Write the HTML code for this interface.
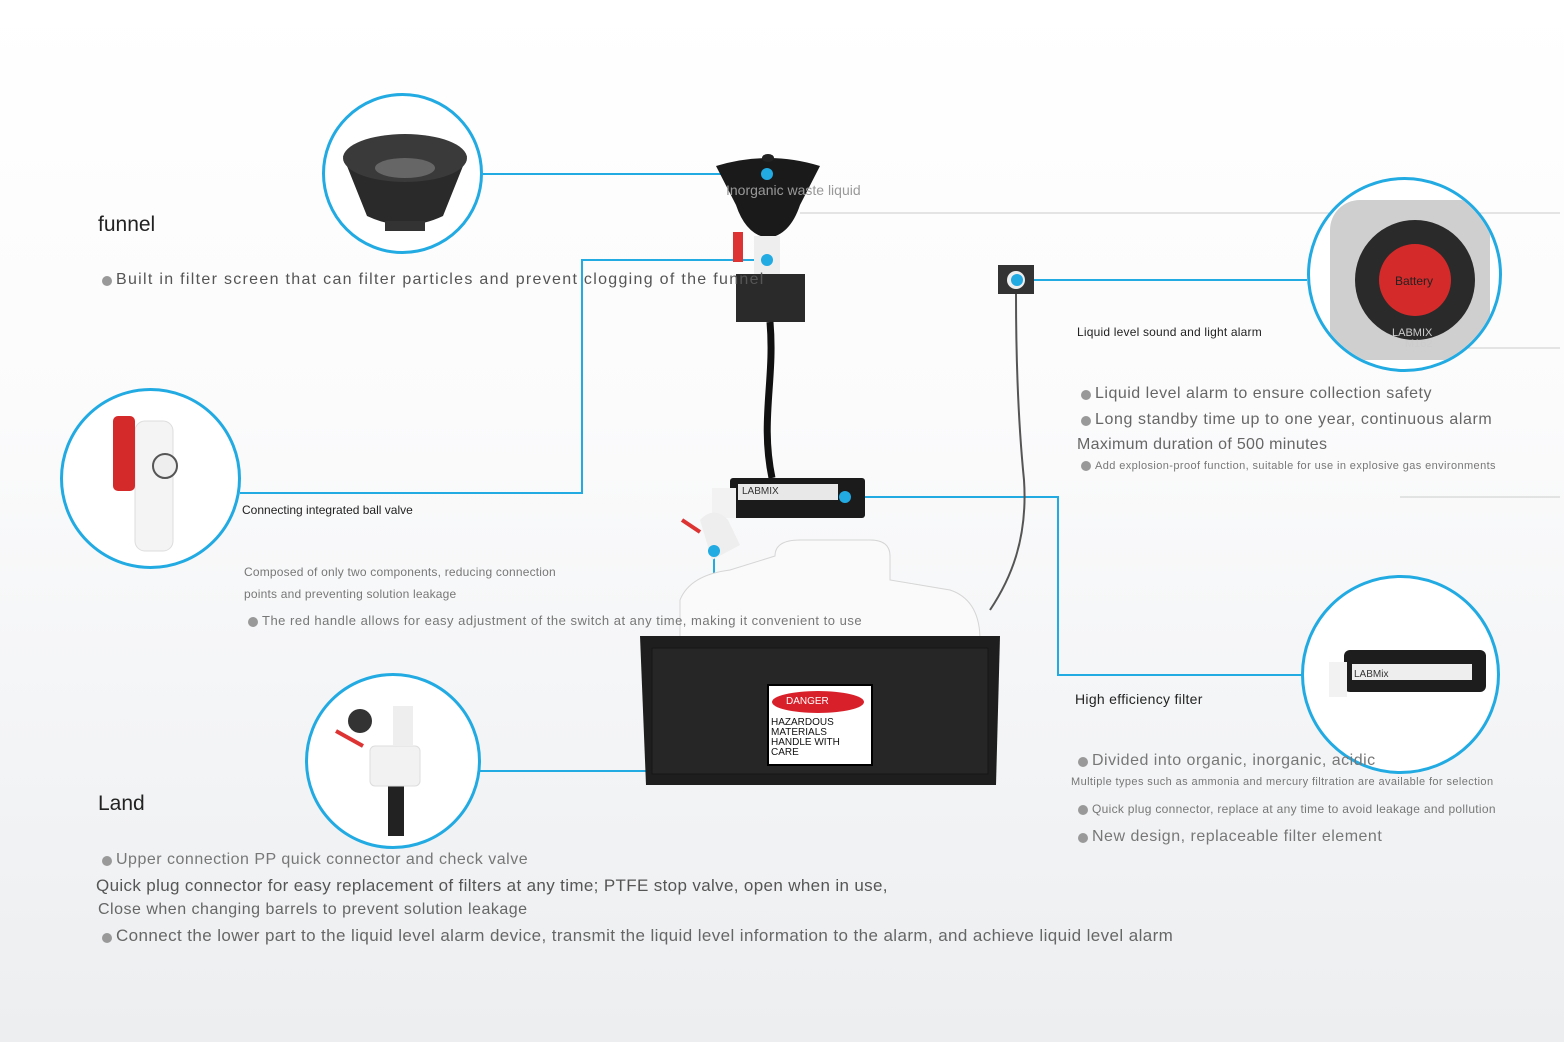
<!DOCTYPE html>
<html><head><meta charset="utf-8"><style>
*{margin:0;padding:0;box-sizing:border-box}
body{width:1564px;height:1042px;overflow:hidden;position:relative;font-family:"Liberation Sans",sans-serif;background:linear-gradient(#ffffff 0%,#fbfbfc 40%,#eceef0 100%);color:#555}
.t{position:absolute;white-space:nowrap}
.c{position:absolute;border:3px solid #22aae2;border-radius:50%;background:#fff;overflow:hidden}
.dot{position:absolute;width:12px;height:12px;border-radius:50%;background:#22aae2}
.b{display:inline-block;width:10px;height:10px;border-radius:50%;background:#999;margin-right:4px;vertical-align:-2px}
</style></head><body>
<svg style="position:absolute;left:0;top:0" width="1564" height="1042">
<g stroke="#22aae2" stroke-width="2" fill="none">
<path d="M483 174H767"/>
<path d="M767 260H582V493H240"/>
<path d="M480 771H714V551"/>
<path d="M1017 280H1307"/>
<path d="M845 497H1058V675H1302"/>
</g>
<g stroke="#ccc" stroke-width="1">
<path d="M800 213H1560"/><path d="M1400 348H1560"/><path d="M1400 497H1560"/>
</g>
<path d="M716 166 Q768 150 820 166 L800 205 Q790 235 768 238 Q746 235 736 205Z" fill="#1a1a1a"/>
<ellipse cx="768" cy="158" rx="6" ry="4" fill="#222"/>
<rect x="754" y="236" width="26" height="40" fill="#eee"/>
<rect x="733" y="232" width="10" height="30" fill="#d33"/>
<rect x="736" y="274" width="69" height="48" fill="#2a2a2a"/>
<path d="M770 322 C775 380 760 420 772 478" stroke="#111" stroke-width="7" fill="none"/>
<path d="M1016 294 C1016 360 1018 420 1024 480 C1028 540 1010 580 990 610" stroke="#555" stroke-width="2" fill="none"/>
<rect x="998" y="265" width="36" height="29" fill="#333"/>
<circle cx="1016" cy="280" r="9" fill="#eee"/>
<path d="M775 556 Q775 540 800 540 H870 Q890 540 890 556 V580 L950 590 Q980 600 980 640 V660 H680 V600 Q690 575 730 570 Z" fill="#fafafa" stroke="#d5d5d5"/>
<path d="M640 636 H1000 L996 785 H646 Z" fill="#1e1e1e"/>
<rect x="652" y="648" width="336" height="126" fill="#262626" stroke="#151515"/>
<rect x="768" y="685" width="104" height="80" fill="#fff" stroke="#000" stroke-width="2"/>
<ellipse cx="818" cy="702" rx="46" ry="11" fill="#d8202a"/>
<rect x="730" y="478" width="135" height="40" rx="3" fill="#1b1b1b"/>
<rect x="738" y="484" width="100" height="16" fill="#e8e8e8"/>
<rect x="712" y="488" width="24" height="30" fill="#f2f2f2"/>
<path d="M700 520 Q714 505 728 520 L740 545 L712 560Z" fill="#eee"/>
<path d="M682 520 L700 532" stroke="#d33" stroke-width="4"/>
</svg>
<div class="dot" style="left:761px;top:168px"></div>
<div class="dot" style="left:761px;top:254px"></div>
<div class="dot" style="left:1011px;top:274px"></div>
<div class="dot" style="left:839px;top:491px"></div>
<div class="dot" style="left:708px;top:545px"></div>
<div class="t" style="left:786px;top:696px;font-size:10px;color:#fff">DANGER</div>
<div class="t" style="left:771px;top:718px;font-size:10px;line-height:10px;color:#111">HAZARDOUS<br>MATERIALS<br>HANDLE WITH<br>CARE</div>
<div class="t" style="left:742px;top:486px;font-size:10px;color:#333">LABMIX</div>
<div class="t" style="left:726px;top:182px;font-size:14px;color:#999">Inorganic waste liquid</div>

<div class="c" style="left:322px;top:93px;width:161px;height:161px">
<svg width="161" height="161"><path d="M18 60 Q80 40 142 60 L118 120 Q80 138 42 120Z" fill="#2a2a2a"/><ellipse cx="80" cy="62" rx="62" ry="24" fill="#3a3a3a"/><ellipse cx="80" cy="72" rx="30" ry="10" fill="#666"/><rect x="60" y="125" width="40" height="10" fill="#333"/></svg></div>
<div class="c" style="left:60px;top:388px;width:181px;height:181px">
<svg width="181" height="181"><rect x="72" y="30" width="38" height="130" rx="10" fill="#f4f4f4" stroke="#ddd"/><rect x="50" y="25" width="22" height="75" rx="5" fill="#d52a2a"/><circle cx="102" cy="75" r="12" fill="#eee" stroke="#555" stroke-width="2"/></svg></div>
<div class="c" style="left:305px;top:673px;width:176px;height:176px">
<svg width="176" height="176"><rect x="80" y="100" width="16" height="60" fill="#222"/><rect x="62" y="70" width="50" height="40" rx="5" fill="#f2f2f2" stroke="#ddd"/><circle cx="52" cy="45" r="12" fill="#333"/><path d="M28 55 L55 70" stroke="#d33" stroke-width="4"/><rect x="85" y="30" width="20" height="40" fill="#eee"/></svg></div>
<div class="c" style="left:1307px;top:177px;width:195px;height:195px">
<svg width="195" height="195"><rect x="20" y="20" width="160" height="160" rx="30" fill="#cfcfcf"/><circle cx="105" cy="100" r="60" fill="#2a2a2a"/><circle cx="105" cy="100" r="36" fill="#d52a2a"/><text x="85" y="105" font-size="12" fill="#222" font-family="Liberation Sans">Battery</text><text x="82" y="156" font-size="11" fill="#ccc" font-family="Liberation Sans">LABMIX</text><text x="95" y="167" font-size="11" fill="#ccc" font-family="Liberation Sans">M162</text></svg></div>
<div class="c" style="left:1301px;top:575px;width:199px;height:199px">
<svg width="199" height="199"><rect x="40" y="72" width="142" height="42" rx="6" fill="#1d1d1d"/><rect x="48" y="86" width="120" height="16" fill="#eee"/><rect x="25" y="84" width="18" height="35" fill="#f2f2f2"/><text x="50" y="99" font-size="10" fill="#333" font-family="Liberation Sans">LABMix</text></svg></div>

<div class="t" style="left:98px;top:213px;font-size:21px;color:#222">funnel</div>
<div class="t" style="left:102px;top:271px;font-size:16px;letter-spacing:1.3px"><span class="b"></span>Built in filter screen that can filter particles and prevent clogging of the funnel</div>
<div class="t" style="left:242px;top:503px;font-size:12px;color:#222">Connecting integrated ball valve</div>
<div class="t" style="left:244px;top:561px;font-size:12px;color:#777;line-height:22px;letter-spacing:.2px">Composed of only two components, reducing connection<br>points and preventing solution leakage</div>
<div class="t" style="left:248px;top:613px;font-size:13px;color:#777;letter-spacing:.5px"><span class="b"></span>The red handle allows for easy adjustment of the switch at any time, making it convenient to use</div>
<div class="t" style="left:98px;top:792px;font-size:21px;color:#222">Land</div>
<div class="t" style="left:102px;top:851px;font-size:16px;color:#777;letter-spacing:.5px"><span class="b"></span>Upper connection PP quick connector and check valve</div>
<div class="t" style="left:96px;top:876px;font-size:17px;color:#555;letter-spacing:.35px">Quick plug connector for easy replacement of filters at any time; PTFE stop valve, open when in use,</div>
<div class="t" style="left:98px;top:901px;font-size:16px;color:#666;letter-spacing:.5px">Close when changing barrels to prevent solution leakage</div>
<div class="t" style="left:102px;top:926px;font-size:17px;color:#666;letter-spacing:.4px"><span class="b"></span>Connect the lower part to the liquid level alarm device, transmit the liquid level information to the alarm, and achieve liquid level alarm</div>
<div class="t" style="left:1077px;top:325px;font-size:12px;color:#222;letter-spacing:.2px">Liquid level sound and light alarm</div>
<div class="t" style="left:1081px;top:385px;font-size:16px;color:#666;letter-spacing:.5px"><span class="b"></span>Liquid level alarm to ensure collection safety</div>
<div class="t" style="left:1081px;top:411px;font-size:16px;color:#666;letter-spacing:.6px"><span class="b"></span>Long standby time up to one year, continuous alarm</div>
<div class="t" style="left:1077px;top:436px;font-size:16px;color:#666;letter-spacing:.3px">Maximum duration of 500 minutes</div>
<div class="t" style="left:1081px;top:460px;font-size:11px;color:#777;letter-spacing:.4px"><span class="b"></span>Add explosion-proof function, suitable for use in explosive gas environments</div>
<div class="t" style="left:1075px;top:691px;font-size:14px;color:#222;letter-spacing:.3px">High efficiency filter</div>
<div class="t" style="left:1078px;top:752px;font-size:16px;color:#777;letter-spacing:.5px"><span class="b"></span>Divided into organic, inorganic, acidic</div>
<div class="t" style="left:1071px;top:776px;font-size:11px;color:#777;letter-spacing:.4px">Multiple types such as ammonia and mercury filtration are available for selection</div>
<div class="t" style="left:1078px;top:802px;font-size:12px;color:#777;letter-spacing:.3px"><span class="b"></span>Quick plug connector, replace at any time to avoid leakage and pollution</div>
<div class="t" style="left:1078px;top:828px;font-size:16px;color:#777;letter-spacing:.5px"><span class="b"></span>New design, replaceable filter element</div>
</body></html>
